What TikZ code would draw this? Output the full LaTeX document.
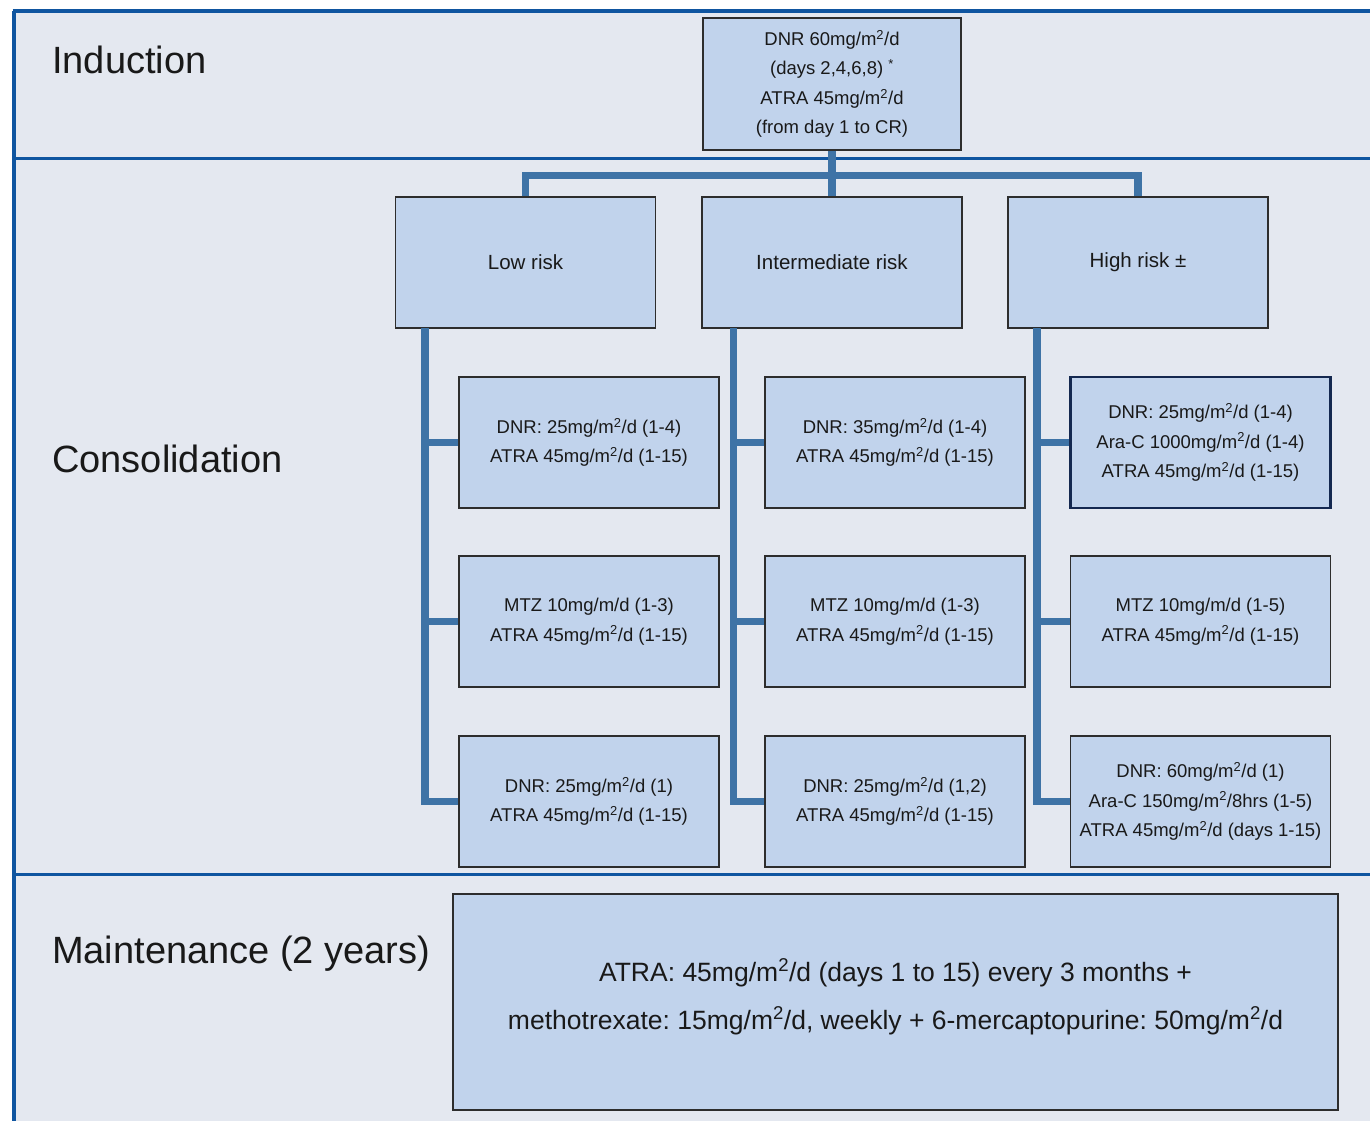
\documentclass[tikz,border=0pt]{standalone}
\usepackage{fontspec}
\setmainfont{Liberation Sans}
\frenchspacing
\definecolor{bgc}{RGB}{228,232,240}
\definecolor{boxc}{RGB}{193,211,236}
\definecolor{framec}{RGB}{15,85,160}
\definecolor{connc}{RGB}{62,115,166}
\definecolor{edgec}{RGB}{45,45,45}
\definecolor{navyedge}{RGB}{20,40,80}
\definecolor{txtc}{RGB}{25,25,25}
\newcommand{\sq}{\textsuperscript{2}}
\begin{document}
\begin{tikzpicture}[x=1pt,y=-1pt,
  framel/.style={draw=framec,line width=3.5},
  conn/.style={draw=connc,line width=7.5,line join=miter,line cap=butt},
  boxn/.style={draw=edgec,fill=boxc,line width=1.5,minimum width=260,minimum height=131,inner sep=0,align=center,text=txtc,font=\fontsize{18.5}{29.5}\selectfont},
  riskn/.style={boxn,font=\fontsize{20.5}{24}\selectfont},
  lab/.style={anchor=base west,text=txtc,inner sep=0,font=\fontsize{38}{40}\selectfont}]
\useasboundingbox (0,0) rectangle (1370,1121);
\fill[white] (0,0) rectangle (1370,1121);
\fill[bgc] (14,11) rectangle (1370,1121);
% frame lines
\draw[framel] (12.5,11) -- (1370,11);
\draw[framel] (14,11) -- (14,1121);
\draw[framel] (14,158.5) -- (1370,158.5);
\draw[framel] (14,874.5) -- (1370,874.5);
% section labels
\node[lab] (tind) at (52,74) {Induction};
\node[lab] (tcon) at (52,472) {Consolidation};
\node[lab] (tmai) at (52,963) {Maintenance (2 years)};
% connector coordinates
\coordinate (bar) at (832,175.5);
\coordinate (spL) at (425,328);
\coordinate (spM) at (733.5,328);
\coordinate (spH) at (1037,328);
% induction and risk boxes
\node[boxn,minimum width=258,minimum height=132] (ind) at (832,84) {DNR 60mg/m\sq/d\\(days 2,4,6,8) \textsuperscript{*}\\ATRA 45mg/m\sq/d\\(from day 1 to CR)};
\node[riskn] (low) at (525.5,262.5) {Low risk};
\node[riskn] (mid) at (832,262.5) {Intermediate risk};
\node[riskn] (high) at (1138,262.5) {High risk ±};
% consolidation boxes
\node[boxn] (l1) at (589,442.5) {DNR: 25mg/m\sq/d (1-4)\\ATRA 45mg/m\sq/d (1-15)};
\node[boxn] (l2) at (589,621.5) {MTZ 10mg/m/d (1-3)\\ATRA 45mg/m\sq/d (1-15)};
\node[boxn] (l3) at (589,801.5) {DNR: 25mg/m\sq/d (1)\\ATRA 45mg/m\sq/d (1-15)};
\node[boxn] (m1) at (895,442.5) {DNR: 35mg/m\sq/d (1-4)\\ATRA 45mg/m\sq/d (1-15)};
\node[boxn] (m2) at (895,621.5) {MTZ 10mg/m/d (1-3)\\ATRA 45mg/m\sq/d (1-15)};
\node[boxn] (m3) at (895,801.5) {DNR: 25mg/m\sq/d (1,2)\\ATRA 45mg/m\sq/d (1-15)};
\node[boxn,draw=navyedge,line width=2.5] (h1) at (1200.5,442.5) {DNR: 25mg/m\sq/d (1-4)\\Ara-C 1000mg/m\sq/d (1-4)\\ATRA 45mg/m\sq/d (1-15)};
\node[boxn] (h2) at (1200.5,621.5) {MTZ 10mg/m/d (1-5)\\ATRA 45mg/m\sq/d (1-15)};
\node[boxn] (h3) at (1200.5,801.5) {DNR: 60mg/m\sq/d (1)\\Ara-C 150mg/m\sq/8hrs (1-5)\\ATRA 45mg/m\sq/d (days 1-15)};
% maintenance
\node[boxn,minimum width=885,minimum height=216,font=\fontsize{26.5}{48}\selectfont] (mai) at (895.5,1002) {\raisebox{16pt}{ATRA: 45mg/m\sq/d (days 1 to 15) every 3 months +}\\\raisebox{16pt}{methotrexate: 15mg/m\sq/d, weekly + 6-mercaptopurine: 50mg/m\sq/d}};
% connectors
\draw[conn] (ind.south) -- (mid.north);
\draw[conn] (low.north) |- (bar) -| (high.north);
\draw[conn] (spL) |- (l3.west);
\draw[conn] (spL |- l1.west) -- (l1.west);
\draw[conn] (spL |- l2.west) -- (l2.west);
\draw[conn] (spM) |- (m3.west);
\draw[conn] (spM |- m1.west) -- (m1.west);
\draw[conn] (spM |- m2.west) -- (m2.west);
\draw[conn] (spH) |- (h3.west);
\draw[conn] (spH |- h1.west) -- (h1.west);
\draw[conn] (spH |- h2.west) -- (h2.west);
\end{tikzpicture}
\end{document}
